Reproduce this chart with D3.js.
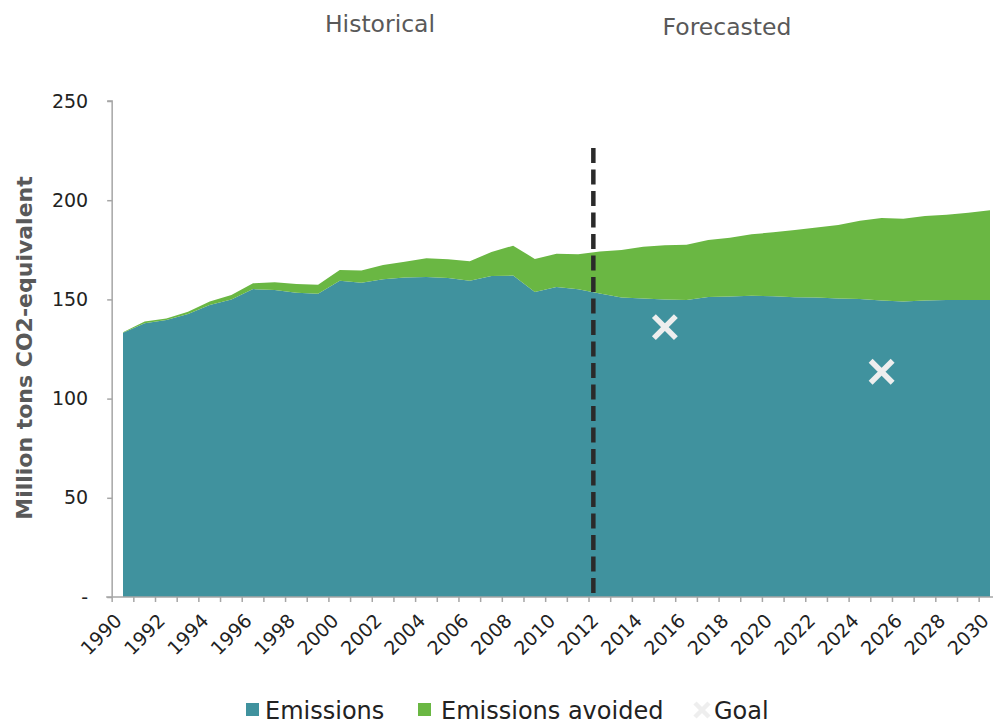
<!DOCTYPE html>
<html lang="en">
<head>
<meta charset="UTF-8">
<title>Emissions and emissions avoided</title>
<script src="https://d3js.org/d3.v7.min.js"></script>
<style>
    body { margin: 0; background: #fff; }
    text { font-family: "DejaVu Sans", "Liberation Sans", Arial, sans-serif; }
</style>
</head>
<body>
<svg width="993" height="725"></svg>
<script>
// data
const years = d3.range(1990, 2031);
const emissions = [133.2, 138.0, 139.6, 142.6, 147.2, 150.0, 155.2, 154.7, 153.4, 152.9,
    159.4, 158.4, 160.1, 161.0, 161.3, 160.8, 159.4, 161.8, 162.0, 153.7,
    156.2, 155.1, 153.0, 150.9, 150.4, 150.0, 149.7, 151.2, 151.4, 151.9,
    151.6, 151.1, 150.9, 150.4, 150.2, 149.4, 148.9, 149.4, 149.7, 149.7, 149.7];
const avoided = [0.3, 0.8, 0.8, 1.2, 1.7, 2.2, 2.9, 3.9, 4.4, 4.5,
    5.4, 6.2, 7.2, 8.0, 9.4, 9.4, 9.8, 12.1, 15.1, 16.7,
    16.8, 17.6, 21.2, 24.0, 26.2, 27.3, 27.9, 28.8, 29.7, 30.9,
    32.2, 33.9, 35.4, 37.1, 39.5, 41.6, 41.8, 42.6, 43.0, 44.0, 45.2];
const goalYears = [2015, 2025];
const goalValues = [136, 113.5];
const yTicks = [0, 50, 100, 150, 200, 250];
const xLabelYears = d3.range(1990, 2031, 2);
const forecastStart = 2011.7;
const seriesNames = ["Emissions", "Emissions avoided", "Goal"];

const teal = "#40929e";
const green = "#6ab743";
const goalColor = "#eeeeee";

const svg = d3.select("svg");

const x = d3.scaleLinear().domain([1990, 2030]).range([123, 990]);
const y = d3.scaleLinear().domain([0, 250]).range([597, 101]);

const rows = years.map((yr, i) => ({ year: yr, emissions: emissions[i], avoided: avoided[i] }));
const stack = d3.stack().keys(["emissions", "avoided"]);
const layers = stack(rows);

const area = d3.area()
    .x(d => x(d.data.year))
    .y0(d => y(d[0]))
    .y1(d => y(d[1]));

svg.selectAll("path.layer")
    .data(layers)
    .enter().append("path")
    .attr("class", "layer")
    .attr("d", area)
    .attr("fill", (d, i) => i === 0 ? teal : green);

// y axis
const yAxis = svg.append("g")
    .attr("transform", `translate(${x(1989.5)},0)`)
    .call(d3.axisLeft(y).tickValues(yTicks).tickSize(5).tickPadding(19)
        .tickFormat(d => d === 0 ? "-" : d));
yAxis.select(".domain").attr("stroke", "#a6a6a6").attr("stroke-width", 1.5)
    .attr("d", `M-5,${y(250)}H0V${y(0)}`);
yAxis.selectAll(".tick line").attr("stroke", "#a6a6a6").attr("stroke-width", 1.5);
yAxis.selectAll(".tick text").attr("font-size", 19).attr("fill", "#222");

// x axis: tick marks between years, labels on years
const xAxis = svg.append("g").attr("transform", `translate(0,${y(0)})`);
xAxis.append("line")
    .attr("x1", x(1989.5) - 6).attr("x2", 993)
    .attr("stroke", "#a6a6a6").attr("stroke-width", 1.5);
xAxis.selectAll("line.tick")
    .data(d3.range(1989.5, 2031, 1))
    .enter().append("line")
    .attr("class", "tick")
    .attr("x1", d => x(d)).attr("x2", d => x(d))
    .attr("y1", 0).attr("y2", 5)
    .attr("stroke", "#a6a6a6").attr("stroke-width", 1.5);
xAxis.selectAll("text")
    .data(xLabelYears)
    .enter().append("text")
    .attr("transform", d => `translate(${x(d)},25) rotate(-45)`)
    .attr("text-anchor", "end")
    .attr("font-size", 19)
    .attr("fill", "#222")
    .text(d => d);

// forecast divider
svg.append("line")
    .attr("x1", x(forecastStart)).attr("x2", x(forecastStart))
    .attr("y1", 148).attr("y2", y(0))
    .attr("stroke", "#2a2a2a")
    .attr("stroke-width", 4.5)
    .attr("stroke-dasharray", "15,6.5");

// goals
const xMark = (cx, cy, r) => `M${cx - r},${cy - r}L${cx + r},${cy + r}M${cx - r},${cy + r}L${cx + r},${cy - r}`;
svg.selectAll("path.goal")
    .data(goalYears.map((g, i) => ({ year: g, value: goalValues[i] })))
    .enter().append("path")
    .attr("class", "goal")
    .attr("d", d => xMark(x(d.year), y(d.value), 11))
    .attr("stroke", goalColor)
    .attr("stroke-width", 5.5)
    .attr("fill", "none");

// headers
svg.append("text").attr("x", 380).attr("y", 32).attr("text-anchor", "middle")
    .attr("font-size", 23.5).attr("fill", "#595959").text("Historical");
svg.append("text").attr("x", 727).attr("y", 35).attr("text-anchor", "middle")
    .attr("font-size", 23.5).attr("fill", "#595959").text("Forecasted");

// y title
svg.append("text")
    .attr("transform", `translate(32,${(y(0) + y(250)) / 2 - 1}) rotate(-90)`)
    .attr("text-anchor", "middle")
    .attr("font-size", 22)
    .attr("font-weight", "bold")
    .attr("fill", "#595959")
    .text("Million tons CO2-equivalent");

// legend
const legend = svg.append("g").attr("transform", "translate(0,710)");
const legendX = [246, 418, 693];
seriesNames.forEach((name, i) => {
    const g = legend.append("g").attr("transform", `translate(${legendX[i]},0)`);
    if (i < 2) {
        g.append("rect").attr("x", 0).attr("y", -7).attr("width", 13).attr("height", 13)
            .attr("fill", i === 0 ? teal : green);
    } else {
        g.append("path").attr("d", xMark(9, 0, 7))
            .attr("stroke", goalColor).attr("stroke-width", 4.5).attr("fill", "none");
    }
    g.append("text")
        .attr("x", i === 0 ? 19 : (i === 1 ? 23 : 21))
        .attr("y", 0)
        .attr("dy", "0.36em")
        .attr("font-size", 24)
        .attr("fill", "#222")
        .text(name);
});
</script>
</body>
</html>
